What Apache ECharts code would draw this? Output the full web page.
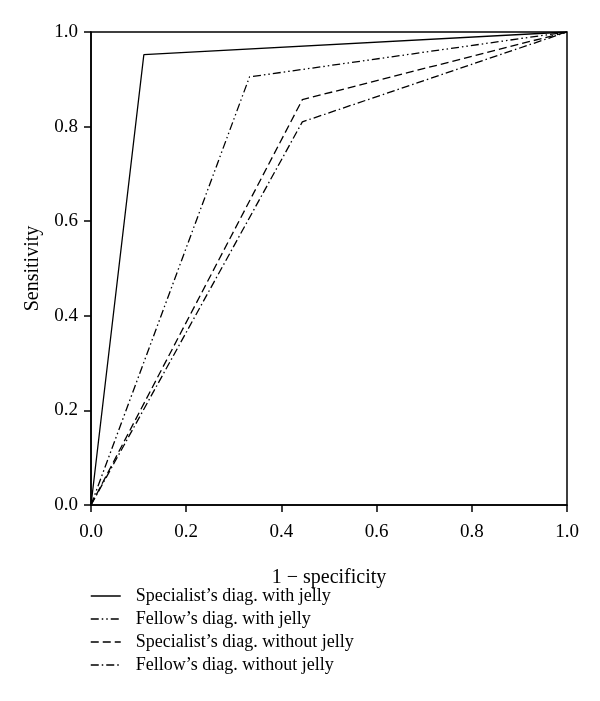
<!DOCTYPE html>
<html>
<head>
<meta charset="utf-8">
<script src="https://cdn.jsdelivr.net/npm/echarts@6/dist/echarts.min.js"></script>
<style>
  html, body { margin: 0; padding: 0; background: #fff; }
  #main { width: 600px; height: 701px; }
</style>
</head>
<body>
<div id="main"></div>
<script>
// ROC points: [1 - specificity, sensitivity]
var specWithJelly = [[0, 0], [0.111, 0.952], [1, 1]];
var fellowWithJelly = [[0, 0], [0.333, 0.905], [1, 1]];
var specWithoutJelly = [[0, 0], [0.444, 0.857], [1, 1]];
var fellowWithoutJelly = [[0, 0], [0.444, 0.81], [1, 1]];

var seriesNames = [
  'Specialist\u2019s diag. with jelly',
  'Fellow\u2019s diag. with jelly',
  'Specialist\u2019s diag. without jelly',
  'Fellow\u2019s diag. without jelly'
];

var font = 'Liberation Serif';

var myChart = echarts.init(document.getElementById('main'));

function lineSeries(name, data, dash) {
  return {
    name: name,
    type: 'line',
    data: data,
    symbol: 'none',
    animation: false,
    itemStyle: { color: '#000' },
    lineStyle: { color: '#000', width: 1.3, type: dash }
  };
}

var option = {
  backgroundColor: '#fff',
  grid: {
    left: 91, right: 33, top: 32, bottom: 196,
    show: true, borderColor: '#000', borderWidth: 1.5
  },
  legend: {
    orient: 'vertical',
    left: 85,
    top: 582,
    height: 115,
    itemWidth: 30,
    itemHeight: 10,
    itemGap: 5,
    itemStyle: { color: 'transparent', borderWidth: 0 },
    lineStyle: { width: 1.5 },
    textStyle: { fontFamily: font, fontSize: 18, color: '#000', padding: [0, 0, 0, 10] },
    data: seriesNames
  },
  xAxis: {
    type: 'value', min: 0, max: 1, interval: 0.2,
    name: '1 \u2212 specificity',
    nameLocation: 'middle', nameGap: 63,
    nameTextStyle: { fontFamily: font, fontSize: 20, color: '#000' },
    axisLine: { lineStyle: { color: '#000', width: 1.5 } },
    axisTick: { length: 7, lineStyle: { color: '#000', width: 1.5 } },
    axisLabel: { fontFamily: font, fontSize: 19, color: '#000', margin: 18,
      formatter: function (v) { return v.toFixed(1); } },
    splitLine: { show: false }
  },
  yAxis: {
    type: 'value', min: 0, max: 1, interval: 0.2,
    name: 'Sensitivity',
    nameLocation: 'middle', nameGap: 48,
    nameTextStyle: { fontFamily: font, fontSize: 20, color: '#000' },
    axisLine: { lineStyle: { color: '#000', width: 1.5 } },
    axisTick: { length: 7, lineStyle: { color: '#000', width: 1.5 } },
    axisLabel: { fontFamily: font, fontSize: 19, color: '#000', margin: 13,
      formatter: function (v) { return v.toFixed(1); } },
    splitLine: { show: false }
  },
  series: [
    lineSeries(seriesNames[0], specWithJelly, 'solid'),
    lineSeries(seriesNames[1], fellowWithJelly, [8, 3, 1.5, 3, 1.5, 3]),
    lineSeries(seriesNames[2], specWithoutJelly, [8, 4]),
    lineSeries(seriesNames[3], fellowWithoutJelly, [8, 3, 1.5, 3])
  ]
};

myChart.setOption(option);
</script>
</body>
</html>
